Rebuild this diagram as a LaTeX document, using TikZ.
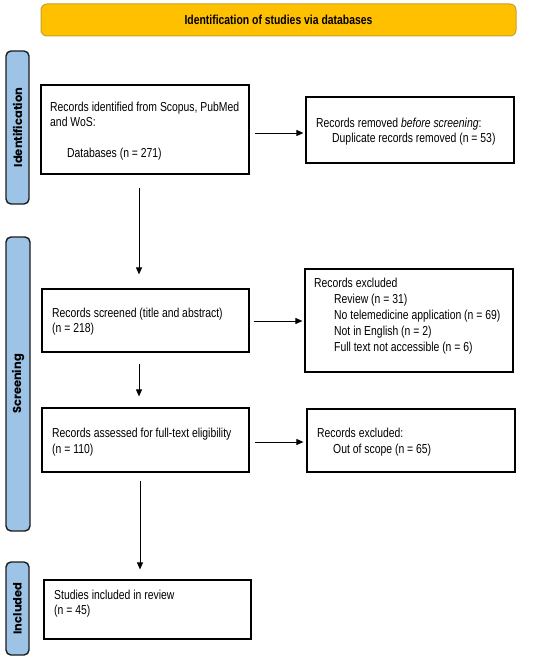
\documentclass[tikz,border=0pt]{standalone}
\usepackage{fontspec}
\setmainfont{Liberation Sans}[FakeStretch=0.80]
\newfontfamily\sidefont{Poppins}
\usetikzlibrary{arrows.meta,calc}
\definecolor{gold}{HTML}{FFC000}
\definecolor{goldedge}{HTML}{C9A227}
\definecolor{sideblue}{HTML}{9DC3E6}
\definecolor{sideedge}{HTML}{1C1C1C}
\tikzset{
  boxnode/.style={draw=black, line width=1.2pt, fill=white, rectangle, inner sep=0pt},
  txt/.style={anchor=north west, inner sep=0pt, align=left, font=\fontsize{13}{15.5}\selectfont},
  sidebar/.style={draw=sideedge, line width=1.4pt, fill=sideblue, rounded corners=5pt, rectangle, inner sep=0pt},
  sidelabel/.style={rotate=90, font=\sidefont\bfseries\fontsize{11.5}{13}\selectfont, inner sep=0pt},
  arr/.style={draw=black, line width=0.9pt, -{Triangle[length=7pt,width=6pt]}},
}
\begin{document}
\begin{tikzpicture}[x=1pt,y=-1pt]
\useasboundingbox (0,0) rectangle (550,661);
% banner
\node[draw=goldedge, line width=1pt, fill=gold, rounded corners=6pt, minimum width=475pt, minimum height=32pt, inner sep=0pt,
  font=\bfseries\fontsize{13}{15}\selectfont] (banner) at (278.5,20) {Identification of studies via databases};
% side bars
\node[sidebar, minimum width=23pt, minimum height=153pt] (sideid) at (17.5,127.5) {};
\node[sidelabel] (labid) at (sideid.center) {Identification};
\node[sidebar, minimum width=24pt, minimum height=294pt] (sidescr) at (18,384) {};
\node[sidelabel] (labscr) at (sidescr.center) {Screening};
\node[sidebar, minimum width=23pt, minimum height=93pt] (sideinc) at (17.5,608.5) {};
\node[sidelabel] (labinc) at (sideinc.center) {Included};
% boxes
\node[boxnode, minimum width=208pt, minimum height=89pt] (box1) at (145,129.5) {};
\node[boxnode, minimum width=208pt, minimum height=66pt] (box2) at (410,130) {};
\node[boxnode, minimum width=207pt, minimum height=63pt] (box3) at (145.5,320.5) {};
\node[boxnode, minimum width=208pt, minimum height=103pt] (box4) at (409,320.5) {};
\node[boxnode, minimum width=207pt, minimum height=64pt] (box5) at (145.5,440) {};
\node[boxnode, minimum width=208pt, minimum height=63pt] (box6) at (411,440.5) {};
\node[boxnode, minimum width=207pt, minimum height=59pt] (box7) at (147.5,609.5) {};
% texts
\node[txt] (t1) at (50,101.5) {Records identified from Scopus, PubMed\\and WoS:\\[15.5pt]\hspace*{17pt}Databases (n = 271)};
\node[txt] (t2) at (316,117.5) {Records removed \textit{before screening}:\\\hspace*{16pt}Duplicate records removed (n = 53)};
\node[txt] (t3) at (52,307.5) {Records screened (title and abstract)\\(n = 218)};
\node[txt, font=\fontsize{13}{16}\selectfont] (t4) at (314,277.5) {Records excluded\\\hspace*{20pt}Review (n = 31)\\\hspace*{20pt}No telemedicine application (n = 69)\\\hspace*{20pt}Not in English (n = 2)\\\hspace*{20pt}Full text not accessible (n = 6)};
\node[txt, font=\fontsize{13}{16.5}\selectfont] (t5) at (52,427.5) {Records assessed for full-text eligibility\\(n = 110)};
\node[txt, font=\fontsize{13}{16}\selectfont] (t6) at (317,427.5) {Records excluded:\\\hspace*{16pt}Out of scope (n = 65)};
\node[txt] (t7) at (54,589.5) {Studies included in review\\(n = 45)};
% arrows
\draw[arr] ($(box1.east)+(5,3.5)$) -- ($(box2.west)+(-2,3)$);
\draw[arr] ($(box1.south)+(-6,13)$) -- ($(box3.north)+(-6.5,-14)$);
\draw[arr] ($(box3.east)+(4,0.5)$) -- ($(box4.west)+(-2,0.5)$);
\draw[arr] ($(box3.south)+(-6.5,11)$) -- ($(box5.north)+(-6.5,-11)$);
\draw[arr] ($(box5.east)+(5,2)$) -- ($(box6.west)+(-3,1.5)$);
\draw[arr] ($(box5.south)+(-5.5,8)$) -- ($(box7.north)+(-7.5,-10)$);
\end{tikzpicture}
\end{document}
